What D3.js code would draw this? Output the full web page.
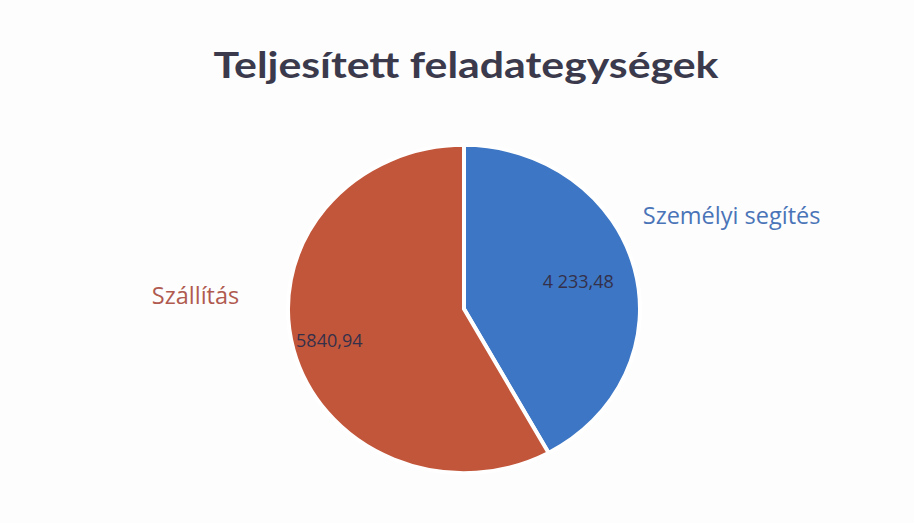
<!DOCTYPE html>
<html>
<head>
<meta charset="utf-8">
<script src="https://cdn.jsdelivr.net/npm/d3@7"></script>
<style>
  body { margin: 0; background: #fff; }
  svg { display: block; }
</style>
</head>
<body>
<svg id="chart" width="914" height="523"></svg>
<script>
var categories = ["Személyi segítés", "Szállítás"]
var values = [4233.48, 5840.94]
var valueLabels = ["4 233,48", "5840,94"]
var colors = ["#3c76c4", "#c2563a"]
var labelColors = ["#4a74b8", "#b05a50"]

var width = 914, height = 523,
    cx = 464, cy = 309,
    r = 176, squash = 164 / 176

var svg = d3.select("#chart")

svg.append("rect").attr("width", width).attr("height", height).attr("fill", "#fdfdfd")

svg.append("text")
   .attr("x", 466).attr("y", 78)
   .attr("text-anchor", "middle")
   .attr("font-family", "Lato, 'Open Sans', sans-serif")
   .attr("font-weight", "bold")
   .attr("font-size", 36)
   .attr("textLength", 505).attr("lengthAdjust", "spacingAndGlyphs")
   .attr("fill", "#3b3a4c")
   .text("Teljesített feladategységek")

var data = categories.map((c, i) => ({name: c, value: values[i], label: valueLabels[i], color: colors[i], lc: labelColors[i]}))

var pie = d3.pie().sort(null).value(d => d.value)
var arcs = pie(data)
var arc = d3.arc().innerRadius(0).outerRadius(r)
var outer = d3.arc().innerRadius(r * 1.5).outerRadius(r * 1.5)
// radius (as share of r) where each value label sits
var innerAt = [0.67, 0.79]
var innerArc = k => d3.arc().innerRadius(r * k).outerRadius(r * k)

var g = svg.append("g").attr("transform", `translate(${cx},${cy}) scale(1,${squash})`)
g.selectAll("path")
 .data(arcs)
 .enter()
 .append("path")
 .attr("d", arc)
 .attr("fill", d => d.data.color)
 .attr("stroke", "#fff")
 .attr("stroke-width", 4)

// value labels inside slices
svg.selectAll(".val")
   .data(arcs)
   .enter()
   .append("text")
   .attr("class", "val")
   .attr("x", (d, i) => cx + innerArc(innerAt[i]).centroid(d)[0])
   .attr("y", (d, i) => cy + innerArc(innerAt[i]).centroid(d)[1] * squash)
   .attr("dy", "0.35em")
   .attr("text-anchor", "middle")
   .attr("font-family", "'Open Sans', sans-serif")
   .attr("font-size", 18)
   .attr("fill", "#35304a")
   .text(d => d.data.label)

// category labels outside, nudged like the original layout
var nudge = [[-77, -32], [31, -74]]
svg.selectAll(".cat")
   .data(arcs)
   .enter()
   .append("text")
   .attr("class", "cat")
   .attr("x", (d, i) => cx + outer.centroid(d)[0] + nudge[i][0])
   .attr("y", (d, i) => cy + outer.centroid(d)[1] * squash + nudge[i][1])
   .attr("dy", "0.35em")
   .attr("text-anchor", (d, i) => i == 0 ? "start" : "end")
   .attr("font-family", "'Open Sans', sans-serif")
   .attr("font-size", 23.5)
   .attr("fill", d => d.data.lc)
   .text(d => d.data.name)
</script>
</body>
</html>
